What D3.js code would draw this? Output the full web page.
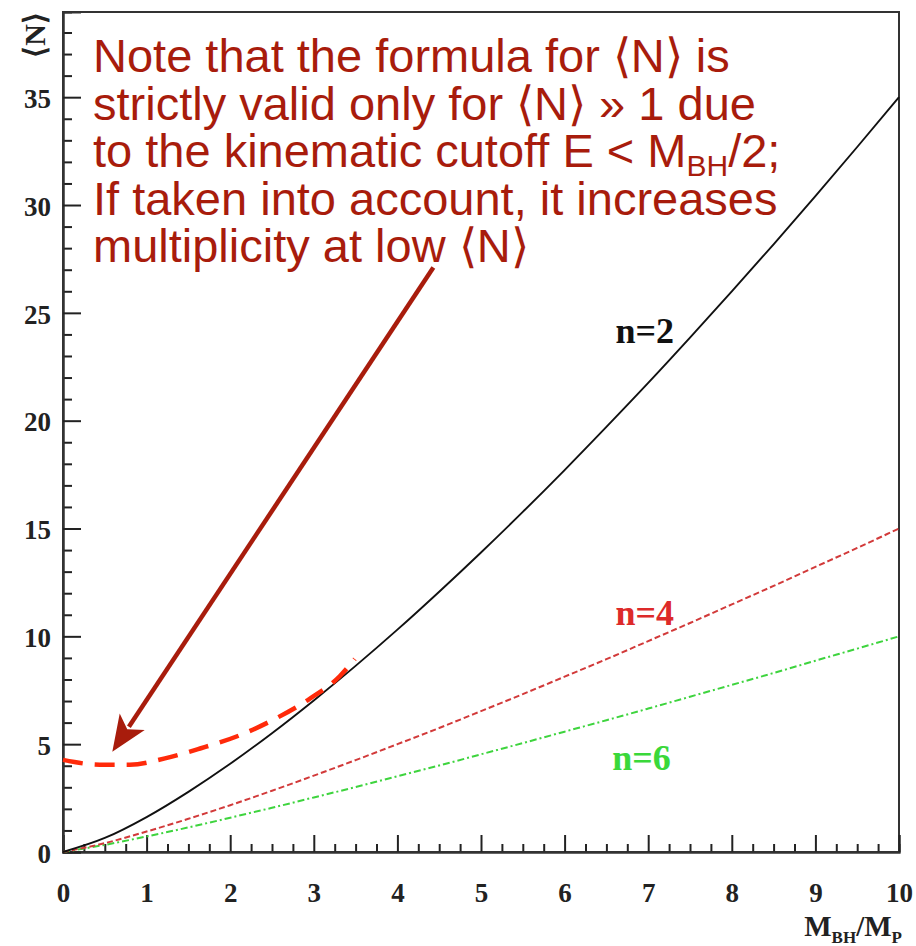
<!DOCTYPE html>
<html>
<head>
<meta charset="utf-8">
<script src="https://cdn.jsdelivr.net/npm/d3@7"></script>
<style>
  html, body { margin: 0; padding: 0; background: #fff; }
  svg { display: block; }
</style>
</head>
<body>
<svg id="chart" width="916" height="946"></svg>
<script>
// Black-hole mass in Planck units
const massValues = [0, 0.5, 1, 1.5, 2, 2.5, 3, 3.5, 4, 4.5, 5, 5.5, 6, 6.5, 7, 7.5, 8, 8.5, 9, 9.5, 10];
// Mean multiplicity <N> for n = 2, 4, 6 extra dimensions
const multN2 = [0, 0.65, 1.62, 2.79, 4.09, 5.51, 7.03, 8.63, 10.31, 12.07, 13.89, 15.77, 17.71, 19.71, 21.75, 23.85, 26.0, 28.18, 30.41, 32.69, 35.0];
const multN4 = [0, 0.41, 0.95, 1.54, 2.17, 2.84, 3.54, 4.26, 5.0, 5.75, 6.53, 7.32, 8.13, 8.94, 9.78, 10.62, 11.48, 12.34, 13.22, 14.1, 15.0];
const multN6 = [0, 0.33, 0.72, 1.14, 1.59, 2.05, 2.53, 3.01, 3.51, 4.01, 4.53, 5.05, 5.58, 6.11, 6.65, 7.2, 7.75, 8.3, 8.87, 9.43, 10.0];
// Sketch of the low-mass behaviour once the kinematic cutoff is included
const cutoffMass = [0, 0.44, 0.8, 1.22, 1.64, 2.12, 2.54, 2.95, 3.31, 3.49];
const cutoffMult = [4.27, 4.05, 4.05, 4.34, 4.8, 5.42, 6.18, 7.1, 8.15, 8.95];
// Axis ticks
const xMajorTicks = [0, 1, 2, 3, 4, 5, 6, 7, 8, 9, 10];
const yMajorTicks = [0, 5, 10, 15, 20, 25, 30, 35];
// Series labels: text, mass, multiplicity
const seriesLabels = ["n=2", "n=4", "n=6"];
const labelMass = [6.96, 6.96, 6.92];
const labelMult = [24.2, 11.1, 4.4];
// Arrow from the note to the low-mass region: [mass, multiplicity]
const arrowFrom = [4.43, 27.1];
const arrowTo = [0.59, 4.65];
// Note text lines ("|" marks a subscript)
const noteLines = [
  "Note that the formula for \u27E8N\u27E9 is",
  "strictly valid only for \u27E8N\u27E9 \u00BB 1 due",
  "to the kinematic cutoff E < M|BH|/2;",
  "If taken into account, it increases",
  "multiplicity at low \u27E8N\u27E9"
];

const svg = d3.select("#chart");
const x = d3.scaleLinear().domain([0, 10]).range([63, 899]);
const y = d3.scaleLinear().domain([0, 38.95]).range([852, 12]);

const serif = "'Liberation Serif', 'Times New Roman', serif";
const sans = "'Liberation Sans', Arial, Helvetica, sans-serif";

const plot = svg.append("g");

// Frame
plot.append("rect")
  .attr("x", x(0)).attr("y", y(38.95))
  .attr("width", x(10) - x(0)).attr("height", y(0) - y(38.95))
  .attr("fill", "none").attr("stroke", "#333").attr("stroke-width", 2);

// Minor ticks
const xMinor = d3.range(0, 10.001, 0.25).filter(v => Math.abs(v - Math.round(v)) > 1e-6);
const yMinor = d3.range(0, 38.5, 1).filter(v => v % 5 !== 0);

const xMinorAxis = plot.append("g").attr("transform", `translate(0,${y(0)})`)
  .call(d3.axisBottom(x).tickValues(xMinor).tickSize(-8).tickFormat(""));
const yMinorAxis = plot.append("g").attr("transform", `translate(${x(0)},0)`)
  .call(d3.axisLeft(y).tickValues(yMinor).tickSize(-9).tickFormat(""));

const xAxis = plot.append("g").attr("transform", `translate(0,${y(0)})`)
  .call(d3.axisBottom(x).tickValues(xMajorTicks).tickSize(-17).tickFormat(d3.format("d")));
const yAxis = plot.append("g").attr("transform", `translate(${x(0)},0)`)
  .call(d3.axisLeft(y).tickValues(yMajorTicks).tickSize(-18).tickPadding(12).tickFormat(d3.format("d")));

[xMinorAxis, yMinorAxis, xAxis, yAxis].forEach(g => {
  g.select(".domain").attr("stroke", "#333").attr("stroke-width", 2);
  g.selectAll(".tick line").attr("stroke", "#222").attr("stroke-width", 2);
  g.selectAll(".tick text")
    .attr("fill", "#222")
    .style("font-family", serif)
    .style("font-weight", "bold")
    .style("font-size", "27px");
});
// x tick labels sit well below the axis
xAxis.selectAll(".tick text").attr("y", 50).attr("dy", null);
yAxis.selectAll(".tick text").attr("dy", "0.38em");

// Axis titles
plot.append("text")
  .attr("transform", `translate(45,35) rotate(-90)`)
  .attr("text-anchor", "middle")
  .style("font-family", serif).style("font-weight", "bold").style("font-size", "30px")
  .attr("fill", "#222")
  .text("\u27E8N\u27E9");

const xTitle = plot.append("text")
  .attr("x", 902).attr("y", 936)
  .attr("text-anchor", "end")
  .style("font-family", serif).style("font-weight", "bold").style("font-size", "29px")
  .attr("fill", "#222");
xTitle.append("tspan").text("M");
xTitle.append("tspan").attr("dy", 7).style("font-size", "17px").text("BH");
xTitle.append("tspan").attr("dy", -7).text("/M");
xTitle.append("tspan").attr("dy", 7).style("font-size", "17px").text("P");

// Curves
const pts = vals => massValues.map((m, i) => [m, vals[i]]);
const line = d3.line().x(d => x(d[0])).y(d => y(d[1])).curve(d3.curveMonotoneX);

plot.append("path").datum(pts(multN6))
  .attr("d", line).attr("fill", "none")
  .attr("stroke", "#3ed43e").attr("stroke-width", 2)
  .attr("stroke-dasharray", "7,3,2,3");
plot.append("path").datum(pts(multN4))
  .attr("d", line).attr("fill", "none")
  .attr("stroke", "#d23a3a").attr("stroke-width", 2)
  .attr("stroke-dasharray", "6,3");
plot.append("path").datum(pts(multN2))
  .attr("d", line).attr("fill", "none")
  .attr("stroke", "#111").attr("stroke-width", 1.9);

// Series labels
const labelColors = ["#111", "#dd2a2a", "#3ad83a"];
seriesLabels.forEach((t, i) => {
  plot.append("text")
    .attr("x", x(labelMass[i])).attr("y", y(labelMult[i]))
    .attr("dy", "0.35em")
    .attr("text-anchor", "middle")
    .style("font-family", serif).style("font-weight", "bold").style("font-size", "36px")
    .attr("fill", labelColors[i])
    .text(t);
});

// Annotation: low-mass correction
const note = svg.append("g");
note.append("path")
  .datum(cutoffMass.map((m, i) => [m, cutoffMult[i]]))
  .attr("d", d3.line().x(d => x(d[0])).y(d => y(d[1])).curve(d3.curveMonotoneX))
  .attr("fill", "none")
  .attr("stroke", "#ff2a0a").attr("stroke-width", 4.5)
  .attr("stroke-dasharray", "20,12");

// Arrow
const noteColor = "#a81c0c";
const ax0 = x(arrowFrom[0]), ay0 = y(arrowFrom[1]);
const ax1 = x(arrowTo[0]), ay1 = y(arrowTo[1]);
const ang = Math.atan2(ay1 - ay0, ax1 - ax0);
const headLen = 36, headHalf = 15;
const bx = ax1 - headLen * Math.cos(ang), by = ay1 - headLen * Math.sin(ang);
note.append("line")
  .attr("x1", ax0).attr("y1", ay0)
  .attr("x2", ax1 - (headLen - 6) * Math.cos(ang)).attr("y2", ay1 - (headLen - 6) * Math.sin(ang))
  .attr("stroke", noteColor).attr("stroke-width", 4.5);
note.append("path")
  .attr("d", d3.line()([
    [ax1, ay1],
    [bx + headHalf * Math.sin(ang), by - headHalf * Math.cos(ang)],
    [ax1 - (headLen - 9) * Math.cos(ang), ay1 - (headLen - 9) * Math.sin(ang)],
    [bx - headHalf * Math.sin(ang), by + headHalf * Math.cos(ang)]
  ]) + "Z")
  .attr("fill", noteColor);

// Note text: one block, one tspan row per line
const noteText = note.append("text")
  .attr("x", 93).attr("y", 72)
  .style("font-family", sans).style("font-size", "47px")
  .attr("fill", noteColor);
noteLines.forEach((ln, i) => {
  const parts = ln.split("|");
  const row = noteText.append("tspan")
    .attr("x", 93).attr("y", 72 + i * 47.5)
    .text(parts[0]);
  if (parts.length > 1) {
    noteText.append("tspan").attr("dy", 9).style("font-size", "30px").text(parts[1]);
    noteText.append("tspan").attr("dy", -9).text(parts[2]);
  }
});
</script>
</body>
</html>
